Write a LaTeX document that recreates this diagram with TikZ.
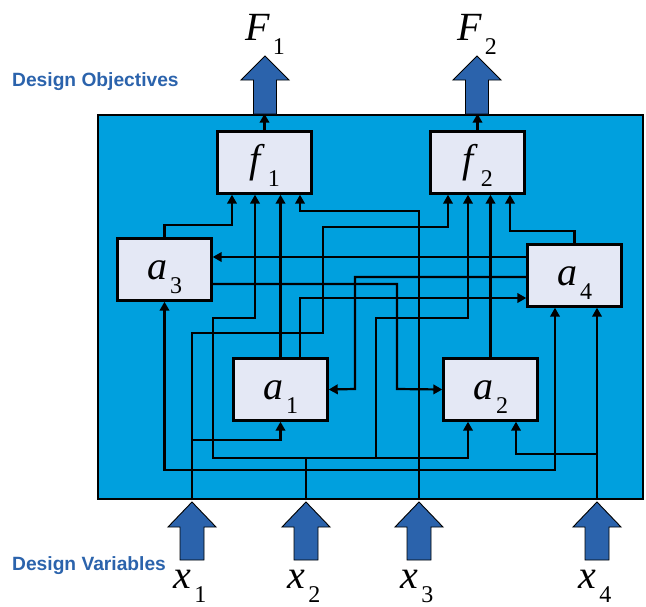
\documentclass[tikz,border=0pt]{standalone}
\usepackage{fontspec}
\setmainfont{Liberation Serif}
\newfontfamily\headfont{Liberation Sans}
\usetikzlibrary{arrows.meta}

\definecolor{plant}{RGB}{0,160,222}
\definecolor{block}{RGB}{228,232,245}
\definecolor{flow}{RGB}{43,99,172}

% letter with a lowered index
\newcommand{\varsub}[2]{\textit{#1}\kern3pt\raisebox{-14pt}{\fontsize{24}{24}\selectfont #2}}

\tikzset{
  blk/.style={draw, line width=2.4pt, fill=block, minimum width=94pt, minimum height=62pt,
    inner sep=0pt, text height=24pt, text depth=4pt, font=\fontsize{40}{40}\selectfont},
  wire/.style={line width=2.2pt, -{Triangle[length=9pt,width=9.5pt]}},
  fat/.style={draw=black, line width=0.9pt, fill=flow},
  sym/.style={inner sep=0pt, font=\fontsize{40}{40}\selectfont},
  tag/.style={inner sep=0pt, text=flow, font=\headfont\bfseries\fontsize{19.2}{21}\selectfont},
}

\begin{document}
\begin{tikzpicture}[x=1pt,y=-1pt]
      \useasboundingbox (0,0) rectangle (646,606);
      \node[draw, line width=2.6pt, fill=plant, minimum width=545pt, minimum height=384pt] (sys) at (370.5,307) {};

      \node[blk] (f1) at (264.5,162.5) {\varsub{f}{1}};
      \node[blk] (f2) at (477.5,162.5) {\varsub{f}{2}};
      \node[blk] (a3) at (164.5,269.5) {\varsub{a}{3}};
      \node[blk] (a4) at (574.5,275.5) {\varsub{a}{4}};
      \node[blk] (a1) at (280.5,389.5) {\varsub{a}{1}};
      \node[blk] (a2) at (490.5,389.5) {\varsub{a}{2}};

      \foreach \x/\n in {192/1,306/2,419/3,597/4}
        \coordinate (pin\n) at (\x,0 |- sys.south);
      \coordinate (j2) at (376,458);

      \draw[wire] (f1.north) -- (f1.north |- sys.north);
      \draw[wire] (f2.north) -- (f2.north |- sys.north);

      \draw[wire] (a3.north) |- (232,225) -- (232,0 |- f1.south);
      \draw[wire] (pin2) |- (213,458) |- (255,318) -- (255,0 |- f1.south);
      \draw[wire] (a1.north) -- (a1.north |- f1.south);
      \draw[wire] (pin3) |- (300,211) -- (300,0 |- f1.south);

      \draw[wire] (pin1) |- (323,333) |- (448,227) -- (448,0 |- f2.south);
      \draw[wire] (j2) |- (468,318) -- (468,0 |- f2.south);
      \draw[wire] (a2.north) -- (a2.north |- f2.south);
      \draw[wire] (a4.north) |- (510,231) -- (510,0 |- f2.south);

      \draw[wire] (a4.west |- 0,257) -- (a3.east |- 0,257);
      \draw[wire] (a3.east |- 0,284) -| (397,389) -- (a2.west);
      \draw[wire] (a4.west |- 0,277) -| (355,389) -- (a1.east);
      \draw[wire] (300,0 |- a1.north) |- (a4.west |- 0,298);

      \draw[wire] (pin1 |- 0,440) -| (a1.south);
      \draw[wire] (pin2 |- 0,458) -| (468,0 |- a2.south);
      \draw[wire] (pin3 |- 0,470) -| (a3.south);
      \draw[wire] (pin3 |- 0,470) -| (555,0 |- a4.south);
      \draw[wire] (pin4) -- (pin4 |- a4.south);
      \draw[wire] (pin4 |- 0,454) -| (516,0 |- a2.south);

      \foreach \x in {265,477}
        \draw[fat] (\x-11.5,114) -- (\x-11.5,80) -- (\x-24,80) -- (\x,56) -- (\x+24,80) -- (\x+11.5,80) -- (\x+11.5,114) -- cycle;
      \foreach \x in {192,306,419,597}
        \draw[fat] (\x-12,560) -- (\x-12,527) -- (\x-24,527) -- (\x,502) -- (\x+24,527) -- (\x+12,527) -- (\x+12,560) -- cycle;

      \node[sym, anchor=base] (F1) at (265,40) {\varsub{F}{1}};
      \node[sym, anchor=base] (F2) at (477,40) {\varsub{F}{2}};
      \node[sym, anchor=base] (x1) at (190,588) {\varsub{x}{1}};
      \node[sym, anchor=base] (x2) at (304,588) {\varsub{x}{2}};
      \node[sym, anchor=base] (x3) at (417,588) {\varsub{x}{3}};
      \node[sym, anchor=base] (x4) at (595,588) {\varsub{x}{4}};

      \node[tag, anchor=base west] (obj) at (12,86) {Design Objectives};
      \node[tag, anchor=base west] (var) at (12,570) {Design Variables};
\end{tikzpicture}
\end{document}
